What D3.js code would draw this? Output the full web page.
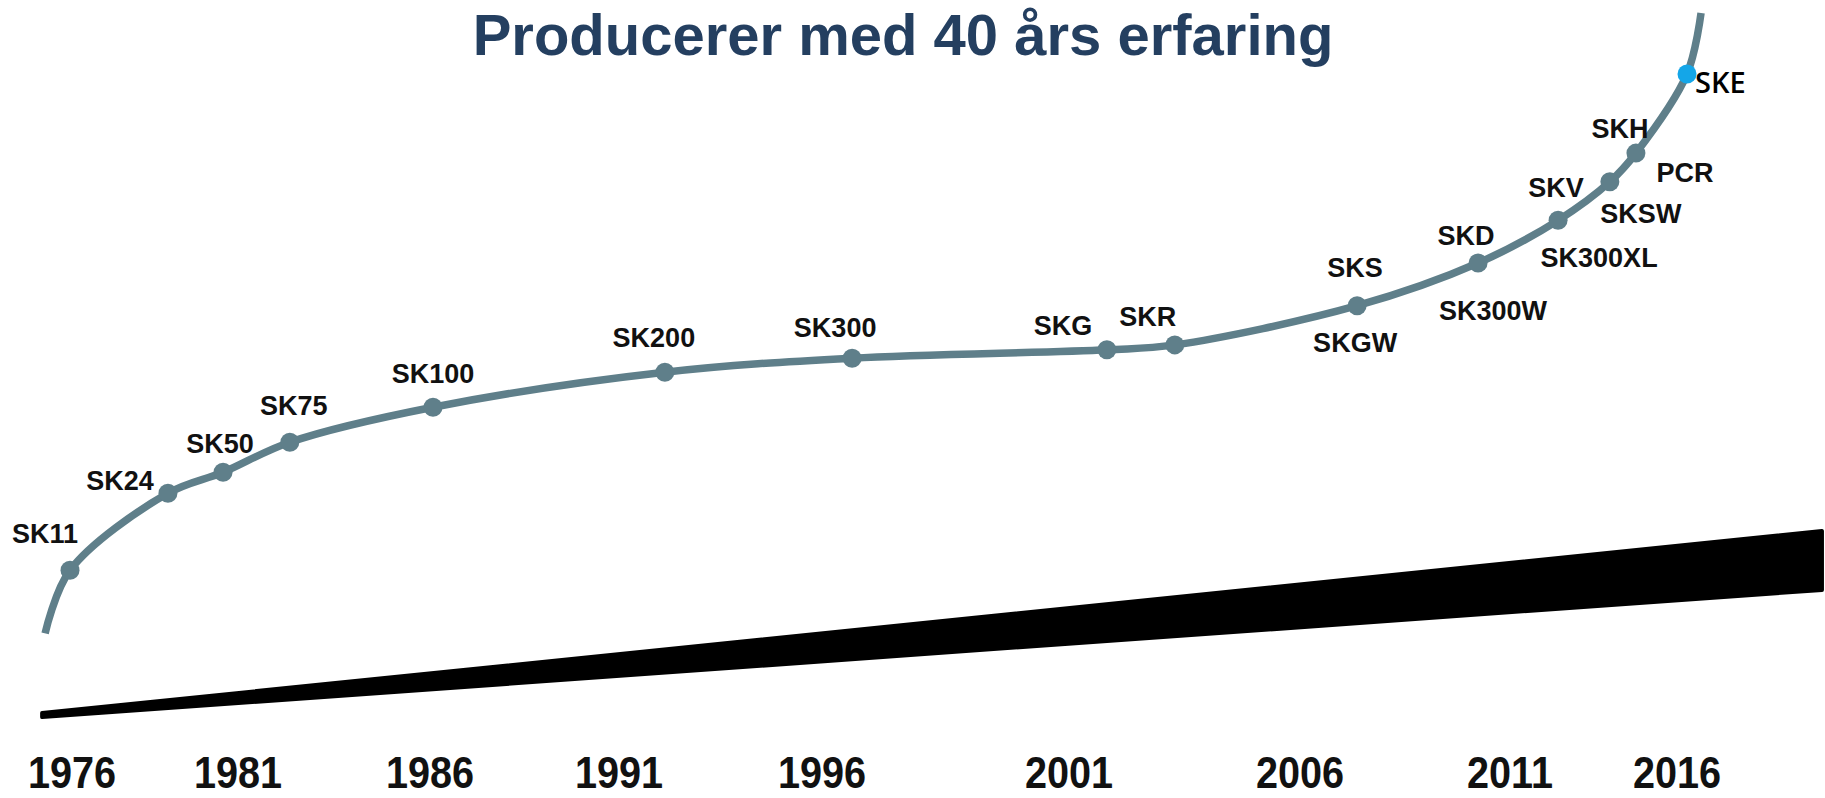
<!DOCTYPE html>
<meta charset="utf-8">
<style>

body {
  margin: 0;
  background: #fff;
}

text {
  font-family: "Liberation Sans", Arial, sans-serif;
}

.title {
  font-size: 58px;
  font-weight: bold;
  fill: #243f60;
}

.milestone text {
  font-size: 27px;
  font-weight: bold;
  fill: #111;
}

.years text {
  font-size: 45px;
  font-weight: bold;
  fill: #111;
}

</style>
<svg></svg>
<script src="https://d3js.org/d3.v7.min.js"></script>
<script>

var width = 1825,
    height = 798;

var svg = d3.select("svg")
    .attr("width", width)
    .attr("height", height);

/* year ticks along the bottom */
var yearTicks = [1976, 1981, 1986, 1991, 1996, 2001, 2006, 2011, 2016];

/* products on the curve: year (x) and development level (y) */
var milestones = ["SK11", "SK24", "SK50", "SK75", "SK100", "SK200", "SK300", "SKG", "SKR",
                  "SKS", "SKD", "SKV", "SKSW", "SKH", "SKE"];
var milestoneYear = [1975.94, 1978.89, 1980.55, 1982.35, 1986.08, 1992.13, 1996.61, 2001.82, 2003.29,
                     2007.36, 2010.24, 2012.44, 2013.99, 2014.77, 2016.30];
var milestoneLevel = [22.1, 33.1, 36.1, 40.4, 45.4, 50.4, 52.4, 53.6, 54.3,
                      59.9, 66.0, 72.1, 77.6, 81.7, 93.0];

/* second product name sharing a dot */
var extraLabels = [["SKGW", "SKS"], ["SK300W", "SKD"], ["SK300XL", "SKV"], ["PCR", "SKH"]];

/* curve runs a little past the first and last products */
var curveStart = {year: 1975.19, level: 13.1},
    curveEnd = {year: 2016.72, level: 101.7};

/* the black wedge underneath (growing volume) */
var wedgeYear = [1975.1, 2020.34];
var wedgeLow = [1.14, 19.29];
var wedgeHigh = [1.71, 27.71];

var highlight = "SKE";

// layout: where the year labels sit, and label offsets from their dot
var tickX = [72, 238, 430, 619, 822, 1069, 1300, 1510, 1677];
var labelOffset = {
  SK11: [-25, -27], SK24: [-48, -3], SK50: [-3, -19], SK75: [4, -27], SK100: [0, -24],
  SK200: [-11, -25], SK300: [-17, -21], SKG: [-44, -15], SKR: [-27, -19],
  SKS: [-2, -29], SKGW: [-2, 46], SKD: [-12, -18], SK300W: [15, 57],
  SKV: [-2, -23], SK300XL: [41, 47], SKSW: [31, 41], SKH: [-16, -15], PCR: [49, 29]
};

var x = d3.scaleLinear().domain(yearTicks).range(tickX);
var y = d3.scaleLinear().domain([0, 100]).range([725, 25]);

var lineColor = "#5f7f8a";

svg.append("text")
    .attr("class", "title")
    .attr("x", 903)
    .attr("y", 55)
    .attr("text-anchor", "middle")
    .text("Producerer med 40 års erfaring");

// wedge
var wedge = wedgeYear.map(function(d, i) {
  return {year: d, low: wedgeLow[i], high: wedgeHigh[i]};
});
var area = d3.area()
    .x(function(d) { return x(d.year); })
    .y0(function(d) { return y(d.low); })
    .y1(function(d) { return y(d.high); });

svg.append("path")
    .datum(wedge)
    .attr("d", area)
    .attr("fill", "#000")
    .attr("stroke", "#000")
    .attr("stroke-width", 4)
    .attr("stroke-linejoin", "round");

// curve
var points = milestones.map(function(d, i) {
  return {name: d, year: milestoneYear[i], level: milestoneLevel[i]};
});
var curvePts = [curveStart].concat(points, [curveEnd]);

var line = d3.line()
    .x(function(d) { return x(d.year); })
    .y(function(d) { return y(d.level); })
    .curve(d3.curveCatmullRom.alpha(0.5));

svg.append("path")
    .datum(curvePts)
    .attr("d", line)
    .attr("fill", "none")
    .attr("stroke", lineColor)
    .attr("stroke-width", 7.5)
    .attr("stroke-linecap", "butt");

var node = svg.append("g")
    .attr("class", "milestone")
    .selectAll("g")
    .data(points)
    .enter().append("g")
    .attr("transform", function(d) {
      return "translate(" + x(d.year) + "," + y(d.level) + ")";
    });

node.append("circle")
    .attr("r", 9.5)
    .attr("fill", function(d) { return d.name == highlight ? "#14a6e8" : lineColor; });

node.filter(function(d) { return d.name != highlight; })
  .append("text")
    .attr("text-anchor", "middle")
    .attr("x", function(d) { return labelOffset[d.name][0]; })
    .attr("y", function(d) { return labelOffset[d.name][1]; })
    .text(function(d) { return d.name; });

// second names hanging off a shared dot
node.each(function(d) {
  var g = d3.select(this);
  extraLabels.forEach(function(e) {
    if (e[1] != d.name) return;
    g.append("text")
        .attr("text-anchor", "middle")
        .attr("x", labelOffset[e[0]][0])
        .attr("y", labelOffset[e[0]][1])
        .text(e[0]);
  });
});

// newest product, written in a different font
node.filter(function(d) { return d.name == highlight; })
  .append("text")
    .attr("x", 8)
    .attr("y", 19)
    .style("font-family", "'Open Sans', 'Noto Sans', sans-serif")
    .style("font-size", "29px")
    .style("font-weight", 600)
    .style("fill", "#000")
    .text(function(d) { return d.name; });

// year labels
svg.append("g")
    .attr("class", "years")
    .selectAll("text")
    .data(yearTicks)
    .enter().append("text")
    .attr("text-anchor", "middle")
    .attr("transform", function(d) {
      return "translate(" + x(d) + ",788) scale(0.88,1)";
    })
    .text(function(d) { return d; });

</script>
